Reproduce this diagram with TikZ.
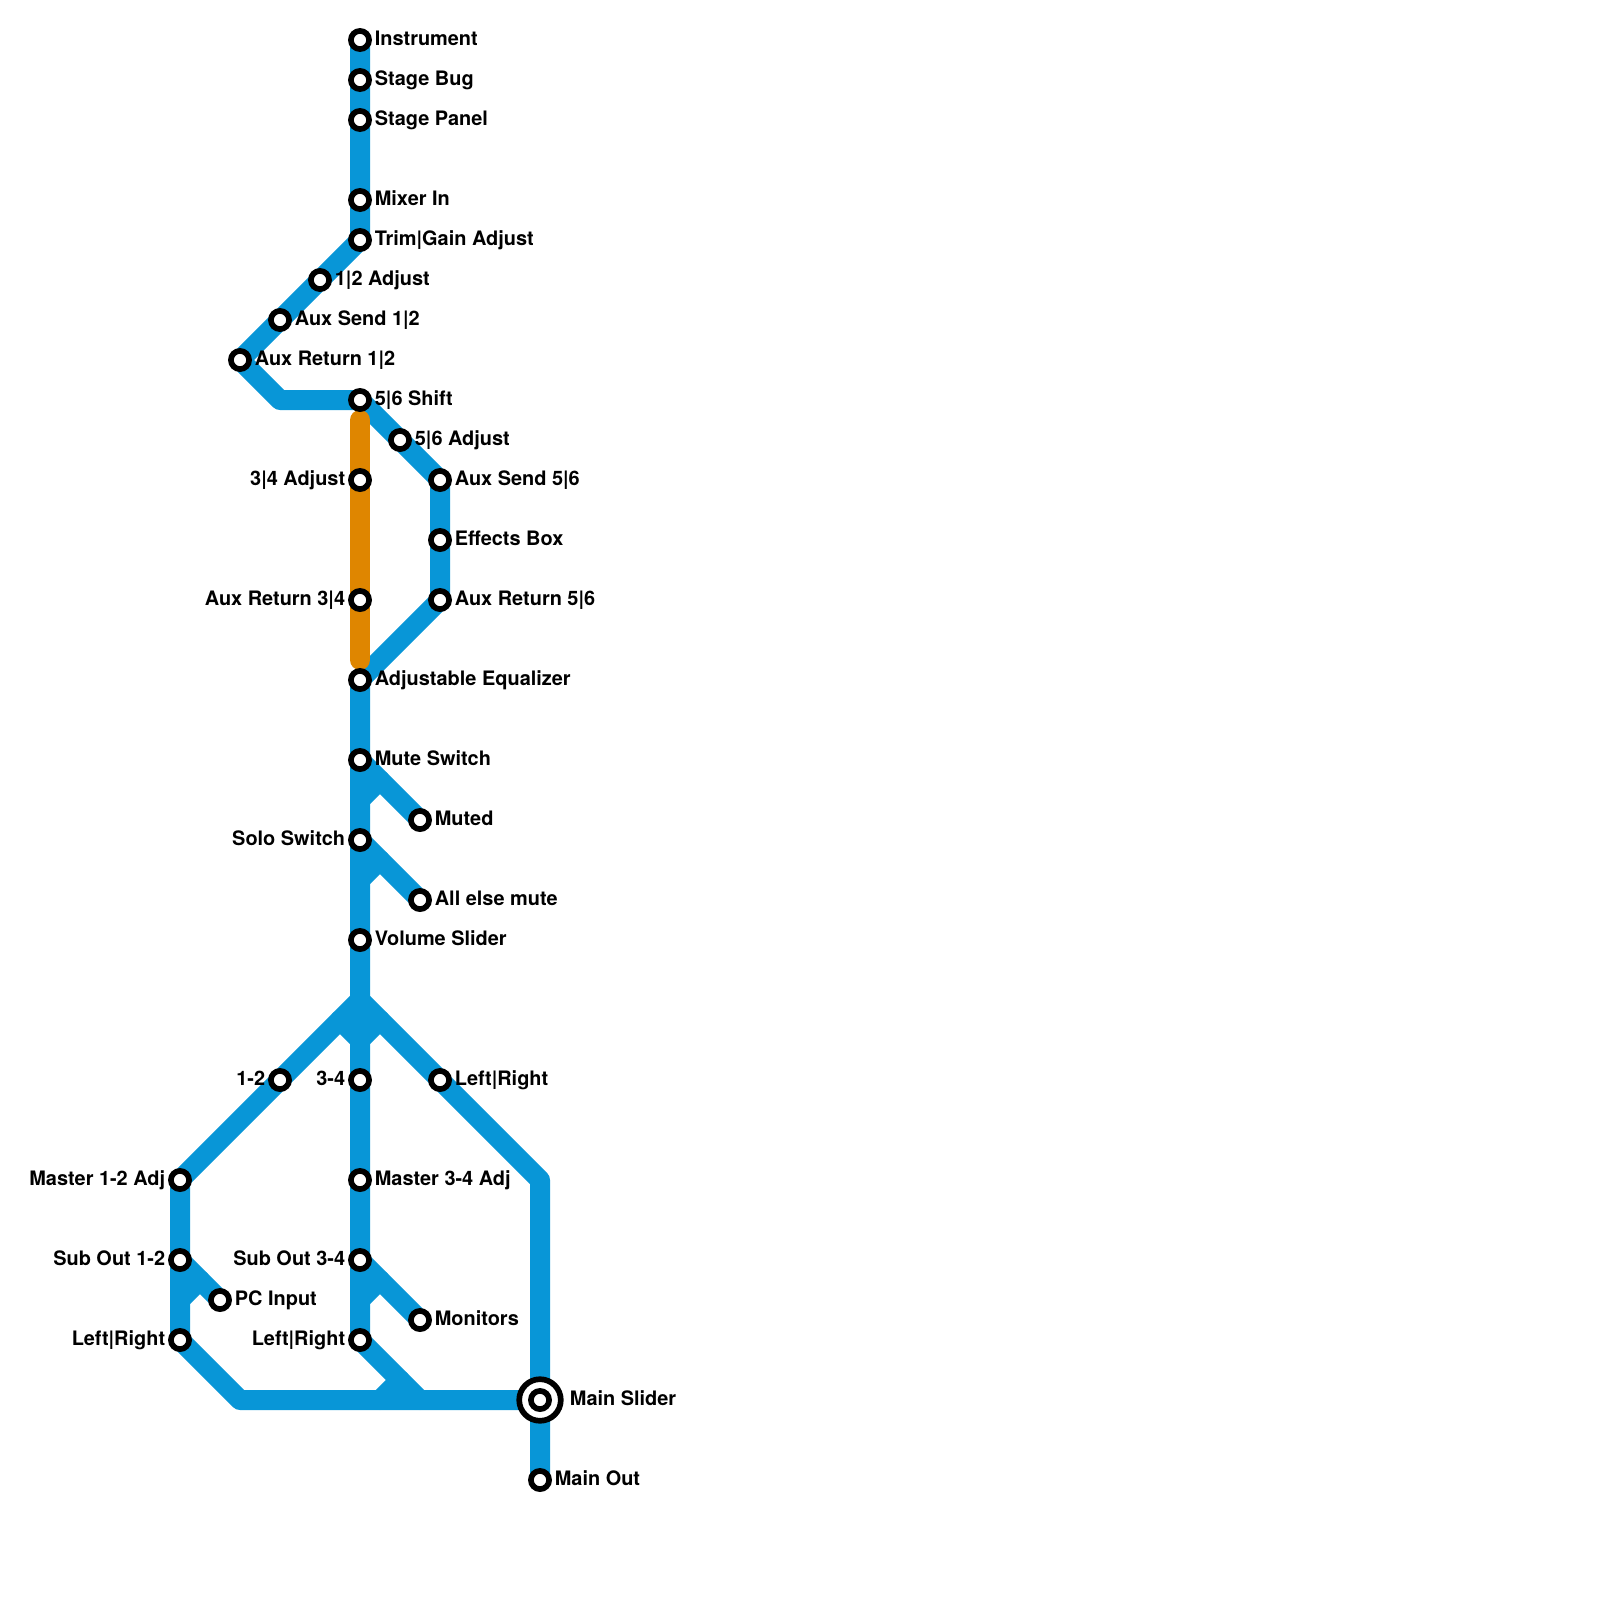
\documentclass[tikz,border=0pt]{standalone}
\usepackage{fontspec}
\setmainfont{TeX Gyre Heros}
\usepackage{xcolor}
\usetikzlibrary{positioning,backgrounds}
\definecolor{tubeblue}{HTML}{0896D7}
\definecolor{tubeorange}{HTML}{DF8600}

\begin{document}
\begin{tikzpicture}[
y=-1cm,
node distance=0.66mm,
stop/.style={circle,draw=black,fill=white,line width=1.42mm,minimum size=4.55mm,inner sep=0pt},
bigstop/.style={circle,draw=black,fill=white,line width=1.42mm,minimum size=10.4mm,inner sep=0pt},
stopname/.style={font=\fontsize{14.17}{16}\selectfont\bfseries,inner sep=0pt,text height=3.9mm,text depth=1.15mm},
tube/.style={draw=tubeblue,line width=5mm,line join=round,line cap=round},
orangetube/.style={draw=tubeorange,line width=5mm,line cap=round}
]
\useasboundingbox (0,0) rectangle (40,40);

\node[stop] (instrument) at (9,1) {};
\node[stop] (stagebug) at (9,2) {};
\node[stop] (stagepanel) at (9,3) {};
\node[stop] (mixerin) at (9,5) {};
\node[stop] (trim) at (9,6) {};
\node[stop] (adjonetwo) at (8,7) {};
\node[stop] (sendonetwo) at (7,8) {};
\node[stop] (returnonetwo) at (6,9) {};
\node[stop] (shiftfivesix) at (9,10) {};
\node[stop] (adjfivesix) at (10,11) {};
\node[stop] (sendfivesix) at (11,12) {};
\node[stop] (effects) at (11,13.5) {};
\node[stop] (returnfivesix) at (11,15) {};
\node[stop] (adjthreefour) at (9,12) {};
\node[stop] (returnthreefour) at (9,15) {};
\node[stop] (equalizer) at (9,17) {};
\node[stop] (mute) at (9,19) {};
\node[stop] (muted) at (10.5,20.5) {};
\node[stop] (solo) at (9,21) {};
\node[stop] (allelse) at (10.5,22.5) {};
\node[stop] (volume) at (9,23.5) {};
\node[stop] (busonetwo) at (7,27) {};
\node[stop] (busthreefour) at (9,27) {};
\node[stop] (busleftright) at (11,27) {};
\node[stop] (masteronetwo) at (4.5,29.5) {};
\node[stop] (subonetwo) at (4.5,31.5) {};
\node[stop] (pcinput) at (5.5,32.5) {};
\node[stop] (leftrightone) at (4.5,33.5) {};
\node[stop] (masterthreefour) at (9,29.5) {};
\node[stop] (subthreefour) at (9,31.5) {};
\node[stop] (monitors) at (10.5,33) {};
\node[stop] (leftrighttwo) at (9,33.5) {};
\node[bigstop] (mainring) at (13.5,35) {};
\node[stop] (mainslider) at (13.5,35) {};
\node[stop] (mainout) at (13.5,37) {};

\coordinate (auxbend) at (7,10);
\coordinate (split) at (9,25);
\coordinate (splitleft) at (8.5,25.5);
\coordinate (splitright) at (9.5,25.5);
\coordinate (splitfoot) at (9,26);
\coordinate (mutejoin) at (9.5,19.5);
\coordinate (mutefoot) at (9,20);
\coordinate (solojoin) at (9.5,21.5);
\coordinate (solofoot) at (9,22);
\coordinate (subjoin) at (5,32);
\coordinate (subfoot) at (4.5,32.5);
\coordinate (monjoin) at (9.5,32);
\coordinate (monfoot) at (9,32.5);
\coordinate (rightbend) at (13.5,29.5);
\coordinate (bottombend) at (6,35);
\coordinate (mergeone) at (10,34.5);
\coordinate (mergefoot) at (9.5,35);
\coordinate (mergetwo) at (10.5,35);
\coordinate (orangetop) at (9,10.5);
\coordinate (orangeend) at (9,16.5);

\begin{scope}[on background layer]
\draw[tube] (instrument.center)--(trim.center)--(returnonetwo.center)--(auxbend)--(shiftfivesix.center)--(sendfivesix.center)--(returnfivesix.center)--(equalizer.center)--(split);
\draw[tube] (split)--(splitleft)--(masteronetwo.center)--(leftrightone.center)--(bottombend)--(mainslider.center)--(mainout.center);
\draw[tube] (split)--(splitright)--(rightbend)--(mainslider.center);
\draw[tube] (splitleft)--(splitfoot)--(splitright);
\draw[tube] (split)--(leftrighttwo.center)--(mergeone)--(mergetwo);
\draw[tube] (mergeone)--(mergefoot);
\draw[tube] (mute.center)--(mutejoin)--(muted.center);
\draw[tube] (mutejoin)--(mutefoot);
\draw[tube] (solo.center)--(solojoin)--(allelse.center);
\draw[tube] (solojoin)--(solofoot);
\draw[tube] (subonetwo.center)--(subjoin)--(pcinput.center);
\draw[tube] (subjoin)--(subfoot);
\draw[tube] (subthreefour.center)--(monjoin)--(monitors.center);
\draw[tube] (monjoin)--(monfoot);
\draw[orangetube] (orangetop)--(orangeend);
\end{scope}

\node[stopname,right=of instrument] (instrumentname) {Instrument};
\node[stopname,right=of stagebug] (stagebugname) {Stage Bug};
\node[stopname,right=of stagepanel] (stagepanelname) {Stage Panel};
\node[stopname,right=of mixerin] (mixerinname) {Mixer In};
\node[stopname,right=of trim] (trimname) {Trim|Gain Adjust};
\node[stopname,right=of adjonetwo] (adjonetwoname) {1|2 Adjust};
\node[stopname,right=of sendonetwo] (sendonetwoname) {Aux Send 1|2};
\node[stopname,right=of returnonetwo] (returnonetwoname) {Aux Return 1|2};
\node[stopname,right=of shiftfivesix] (shiftfivesixname) {5|6 Shift};
\node[stopname,right=of adjfivesix] (adjfivesixname) {5|6 Adjust};
\node[stopname,right=of sendfivesix] (sendfivesixname) {Aux Send 5|6};
\node[stopname,right=of effects] (effectsname) {Effects Box};
\node[stopname,right=of returnfivesix] (returnfivesixname) {Aux Return 5|6};
\node[stopname,left=of adjthreefour] (adjthreefourname) {3|4 Adjust};
\node[stopname,left=of returnthreefour] (returnthreefourname) {Aux Return 3|4};
\node[stopname,right=of equalizer] (equalizername) {Adjustable Equalizer};
\node[stopname,right=of mute] (mutename) {Mute Switch};
\node[stopname,right=of muted] (mutedname) {Muted};
\node[stopname,left=of solo] (soloname) {Solo Switch};
\node[stopname,right=of allelse] (allelsename) {All else mute};
\node[stopname,right=of volume] (volumename) {Volume Slider};
\node[stopname,left=of busonetwo] (busonetwoname) {1-2};
\node[stopname,left=of busthreefour] (busthreefourname) {3-4};
\node[stopname,right=of busleftright] (busleftrightname) {Left|Right};
\node[stopname,left=of masteronetwo] (masteronetwoname) {Master 1-2 Adj};
\node[stopname,left=of subonetwo] (subonetwoname) {Sub Out 1-2};
\node[stopname,right=of pcinput] (pcinputname) {PC Input};
\node[stopname,left=of leftrightone] (leftrightonename) {Left|Right};
\node[stopname,right=of masterthreefour] (masterthreefourname) {Master 3-4 Adj};
\node[stopname,left=of subthreefour] (subthreefourname) {Sub Out 3-4};
\node[stopname,right=of monitors] (monitorsname) {Monitors};
\node[stopname,left=of leftrighttwo] (leftrighttwoname) {Left|Right};
\node[stopname,right=1.5mm of mainring] (mainslidername) {Main Slider};
\node[stopname,right=of mainout] (mainoutname) {Main Out};
\end{tikzpicture}
\end{document}
